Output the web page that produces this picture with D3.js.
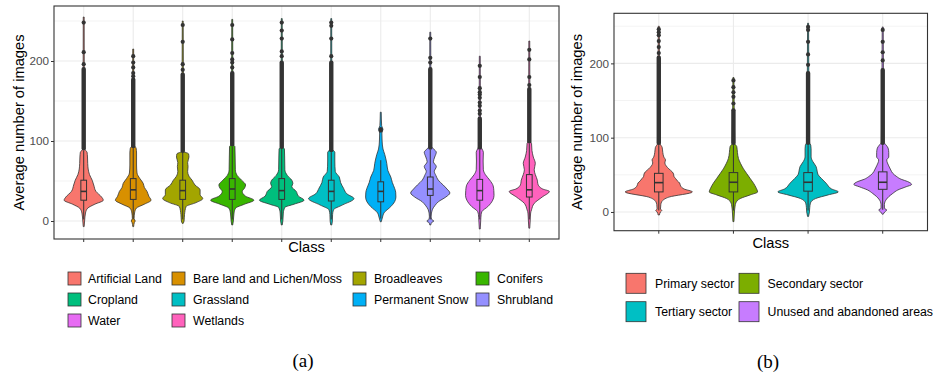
<!DOCTYPE html>
<html>
<head>
<meta charset="utf-8">
<script src="https://cdn.jsdelivr.net/npm/d3@7/dist/d3.min.js"></script>
<style>
  body { margin: 0; background: #fff; }
  svg { display: block; font-family: "Liberation Sans", Arial, Helvetica, sans-serif; }
</style>
</head>
<body>
<svg id="chart" width="933" height="375"></svg>
<script>
// ---- panel (a): land cover classes ----
var classesA = ["Artificial Land", "Bare land and Lichen/Moss", "Broadleaves", "Conifers", "Cropland",
                "Grassland", "Permanent Snow", "Shrubland", "Water", "Wetlands"];
var colorsA = ["#F8766D", "#D89000", "#A3A500", "#39B600", "#00BF7D",
               "#00BFC4", "#00B0F6", "#9590FF", "#E76BF3", "#FF62BC"];

// violin outline: [value, relative half width]
var violinsA = [
  [[-7,.02],[0,.04],[10,.08],[16,.18],[21,.5],[26,.88],[30,.8],[37,.55],[45,.45],[51,.38],[58,.26],[65,.2],[72,.18],[80,.17],[86,.15],[90,.04],[110,.03],[255,.02]],
  [[-7,.02],[-2,.05],[0,.09],[3,.04],[10,.06],[16,.14],[21,.5],[26,.8],[31,.7],[37,.62],[42,.5],[47,.45],[53,.3],[60,.17],[70,.15],[85,.15],[91,.13],[95,.04],[215,.02]],
  [[-3,.02],[0,.06],[8,.08],[18,.15],[23,.6],[28,.9],[33,.78],[39,.78],[45,.55],[51,.42],[56,.28],[62,.22],[68,.24],[73,.22],[80,.28],[84,.26],[87,.05],[250,.02]],
  [[-5,.02],[0,.05],[10,.08],[16,.15],[21,.55],[26,.97],[31,.6],[37,.45],[41,.55],[45,.6],[51,.42],[57,.22],[64,.14],[80,.13],[93,.12],[96,.04],[252,.02]],
  [[-5,.02],[0,.05],[10,.07],[17,.14],[21,.55],[26,1.0],[31,.75],[37,.65],[43,.45],[47,.5],[51,.45],[57,.25],[64,.14],[80,.13],[90,.12],[93,.04],[253,.02]],
  [[-5,.02],[0,.05],[8,.06],[14,.1],[20,.5],[28,1.02],[34,.7],[41,.55],[48,.42],[55,.36],[62,.18],[75,.16],[86,.16],[90,.04],[253,.02]],
  [[-1,.02],[5,.08],[10,.14],[18,.45],[24,.62],[30,.68],[36,.67],[41,.62],[48,.52],[55,.45],[63,.32],[72,.27],[83,.18],[90,.1],[100,.06],[110,.05],[114.6,.1],[119,.04],[136,.02]],
  [[-5,.02],[-2,.06],[0,.16],[2,.06],[6,.04],[14,.09],[19,.2],[24,.36],[30,.7],[35,.88],[40,.75],[45,.58],[51,.36],[57,.25],[62,.18],[68,.27],[74,.14],[80,.2],[86,.27],[90,.15],[94,.04],[236,.02]],
  [[-10,.02],[0,.04],[8,.06],[12,.1],[18,.36],[26,.58],[32,.64],[38,.63],[44,.6],[51,.45],[58,.25],[64,.16],[75,.15],[86,.16],[90,.1],[94,.04],[206,.02]],
  [[-9,.02],[0,.04],[10,.06],[14,.1],[22,.22],[30,.58],[37,.9],[40,.6],[43,.45],[47,.38],[51,.36],[58,.27],[64,.22],[72,.27],[80,.18],[88,.12],[97,.1],[100,.04],[225,.02]]
];
// [lower whisker, q1, median, q3, upper whisker]
var boxesA = [
  [2,26,37,51,88], [2,27,39,53,91], [2,27,38,51,85], [2,27,40,53,93], [2,27,38,53,90],
  [2,25,37,51,86], [3,24,37,49,76], [2,32,40,55,89], [2,26,38,52,89], [2,30,39,58,97]
];
// stretch where the outliers overlap into one solid column
var denseA = [[88,190],[91,177],[85,183],[93,185],[90,198],[86,198],null,[89,190],[89,128],[97,165]];
var outliersA = [
  [196,211,248], [181,185,192,198,206], [189,196,224,245], [192,198,202,210,227,245],
  [206,212,228,238,248], [206,228,244,248], [113,115], [198,204,228],
  [134,138,144,148,154,158,161,166,180,194], [170,180,202,214]
];

// ---- panel (b): sectors ----
var classesB = ["Primary sector", "Secondary sector", "Tertiary sector", "Unused and abandoned areas"];
var colorsB = ["#F8766D", "#7CAE00", "#00BFC4", "#C77CFF"];
var violinsB = [
  [[-4,.02],[0,.05],[2,.09],[4,.05],[10,.06],[14,.09],[20,.3],[27,1.0],[31,.75],[35,.65],[39,.62],[42,.55],[45,.5],[48,.45],[51,.44],[54,.4],[58,.3],[62,.22],[66,.18],[70,.2],[74,.15],[80,.12],[87,.1],[92,.04],[250,.015]],
  [[-13,.015],[0,.03],[8,.05],[12,.07],[18,.2],[23,.5],[27,.72],[32,.68],[38.6,.6],[45,.5],[52,.39],[58,.3],[65.5,.21],[72,.15],[80,.12],[88,.1],[92,.04],[181,.015]],
  [[-6,.015],[0,.04],[6,.05],[12,.07],[18,.22],[23,.6],[27,.9],[31,.7],[38.6,.54],[45,.4],[50,.3],[55,.27],[61,.24],[68,.14],[74,.09],[85,.09],[90,.08],[94,.04],[254,.015]],
  [[-3,.015],[0,.06],[2.7,.12],[5,.05],[10,.05],[14,.07],[20.6,.18],[25,.3],[29.6,.45],[34,.7],[37,.86],[41,.74],[44,.55],[47.5,.42],[52,.3],[56.5,.24],[62,.18],[66,.14],[70,.12],[74,.18],[80,.18],[86,.16],[90,.1],[94,.04],[249,.015]]
];
var boxesB = [[2,27,39.5,52,90], [2,27,40,53,90], [2,28,40,53,90], [3,30.5,40,54,90]];
var denseB = [[90,208],[90,137],[90,187],[90,191]];
var outliersB = [[214,222,230,238,242,246], [146,155,161,168,177], [198,212,229,245,249], [204,215,229,245]];

var majorTicks = [0, 100, 200];
var minorTicks = [50, 150, 250];

var svg = d3.select("#chart");

function drawPanel(p) {
  var g = svg.append("g");
  var x = d3.scalePoint().domain(p.classes).range([p.left, p.right]).padding(0.6);
  var y = d3.scaleLinear().domain(p.yDomain).range([p.bottom, p.top]);
  var step = x.step();
  var halfW = d3.scaleLinear().domain([0, 1]).range([0, step * 0.45]);
  var boxW = step * 0.115;

  // grid
  g.selectAll("line.minor").data(minorTicks).join("line")
    .attr("x1", p.left).attr("x2", p.right)
    .attr("y1", d => y(d)).attr("y2", d => y(d))
    .style("stroke", "#ebebeb").style("stroke-width", 0.6);
  g.selectAll("line.major").data(majorTicks).join("line")
    .attr("x1", p.left).attr("x2", p.right)
    .attr("y1", d => y(d)).attr("y2", d => y(d))
    .style("stroke", "#ebebeb").style("stroke-width", 1.1);
  g.selectAll("line.vgrid").data(p.classes).join("line")
    .attr("x1", d => x(d)).attr("x2", d => x(d))
    .attr("y1", p.top).attr("y2", p.bottom)
    .style("stroke", "#ebebeb").style("stroke-width", 1.1);

  // violins
  p.classes.forEach(function(c, i) {
    var cx = x(c);
    var area = d3.area()
      .y(d => y(d[0]))
      .x0(d => cx - halfW(d[1]))
      .x1(d => cx + halfW(d[1]))
      .curve(d3.curveMonotoneY);
    g.append("path").datum(p.violins[i])
      .attr("d", area)
      .attr("fill", p.colors[i])
      .attr("stroke", "#333").attr("stroke-width", 0.8);
  });

  // boxplots + outliers
  p.classes.forEach(function(c, i) {
    var cx = x(c), b = p.boxes[i];
    g.append("line").attr("x1", cx).attr("x2", cx).attr("y1", y(b[0])).attr("y2", y(b[1]))
      .style("stroke", "#333").style("stroke-width", 1);
    g.append("line").attr("x1", cx).attr("x2", cx).attr("y1", y(b[3])).attr("y2", y(b[4]))
      .style("stroke", "#333").style("stroke-width", 1);
    g.append("rect").attr("x", cx - boxW / 2).attr("width", boxW)
      .attr("y", y(b[3])).attr("height", y(b[1]) - y(b[3]))
      .attr("fill", p.colors[i]).attr("stroke", "#333").attr("stroke-width", 1);
    g.append("line").attr("x1", cx - boxW / 2).attr("x2", cx + boxW / 2)
      .attr("y1", y(b[2])).attr("y2", y(b[2]))
      .style("stroke", "#333").style("stroke-width", 1.6);

    var dn = p.dense[i];
    if (dn) {
      g.append("rect").attr("x", cx - 2.2).attr("width", 4.4)
        .attr("y", y(dn[1]) - 2).attr("height", y(dn[0]) - y(dn[1]) + 2)
        .attr("rx", 2).attr("fill", "#333");
    }
    g.selectAll(null).data(p.outliers[i]).join("circle")
      .attr("cx", cx).attr("cy", d => y(d)).attr("r", 2.1)
      .attr("fill", "#333");
  });

  // panel border
  g.append("rect").attr("x", p.left).attr("y", p.top)
    .attr("width", p.right - p.left).attr("height", p.bottom - p.top)
    .attr("fill", "none").attr("stroke", "#333").attr("stroke-width", 1.1);

  // y axis
  var ax = g.append("g").attr("transform", "translate(" + p.left + ",0)")
    .call(d3.axisLeft(y).tickValues(majorTicks).tickSize(3).tickPadding(2));
  ax.select(".domain").remove();
  ax.selectAll(".tick line").style("stroke", "#333");
  ax.selectAll(".tick text").style("fill", "#4d4d4d").style("font-size", "11.7px")
    .style("font-family", "'Liberation Sans', Arial, sans-serif");
  // x axis ticks
  g.selectAll("line.xtick").data(p.classes).join("line")
    .attr("x1", d => x(d)).attr("x2", d => x(d))
    .attr("y1", p.bottom).attr("y2", p.bottom + 3)
    .style("stroke", "#333");

  // titles
  g.append("text").attr("transform", "translate(" + p.yTitleX + "," + ((p.top + p.bottom) / 2) + ") rotate(-90)")
    .attr("text-anchor", "middle").attr("dy", "0.35em")
    .style("font-size", "14.7px").text("Average number of images");
  g.append("text").attr("x", (p.left + p.right) / 2).attr("y", p.xTitleY)
    .attr("text-anchor", "middle").attr("dy", "0.35em")
    .style("font-size", "14.7px").text("Class");

  // legend
  p.classes.forEach(function(c, i) {
    var row = Math.floor(i / p.legendCols), col = i % p.legendCols;
    var kx = p.legendKeyX[col], ky = p.legendRowY[row];
    g.append("rect").attr("x", kx).attr("y", ky - p.keySize / 2)
      .attr("width", p.keySize).attr("height", p.keySize)
      .attr("fill", p.colors[i]).attr("stroke", "#333").attr("stroke-width", 0.8);
    g.append("text").attr("x", p.legendTextX[col]).attr("y", ky).attr("dy", "0.35em")
      .style("font-size", "12.3px").text(c);
  });

  // caption
  g.append("text").attr("x", p.captionX).attr("y", p.captionY)
    .attr("text-anchor", "middle").attr("dy", "0.35em")
    .style("font-family", "'Liberation Serif', 'Times New Roman', serif")
    .style("font-size", "19px").text(p.caption);
}

drawPanel({
  classes: classesA, colors: colorsA, violins: violinsA, boxes: boxesA,
  dense: denseA, outliers: outliersA,
  left: 54, right: 559, top: 6, bottom: 239, yDomain: [-22.5, 268.75],
  yTitleX: 19, xTitleY: 247,
  legendCols: 4, keySize: 13,
  legendKeyX: [68, 172, 353, 476], legendTextX: [88, 193, 374, 497],
  legendRowY: [278.5, 299.5, 320.5],
  caption: "(a)", captionX: 303, captionY: 360
});

drawPanel({
  classes: classesB, colors: colorsB, violins: violinsB, boxes: boxesB,
  dense: denseB, outliers: outliersB,
  left: 614, right: 927.5, top: 13.3, bottom: 230.7, yDomain: [-25.2, 267.4],
  yTitleX: 577, xTitleY: 242.5,
  legendCols: 2, keySize: 20,
  legendKeyX: [626, 739], legendTextX: [655, 767.5],
  legendRowY: [283.3, 311.7],
  caption: "(b)", captionX: 768, captionY: 361
});
</script>
</body>
</html>
